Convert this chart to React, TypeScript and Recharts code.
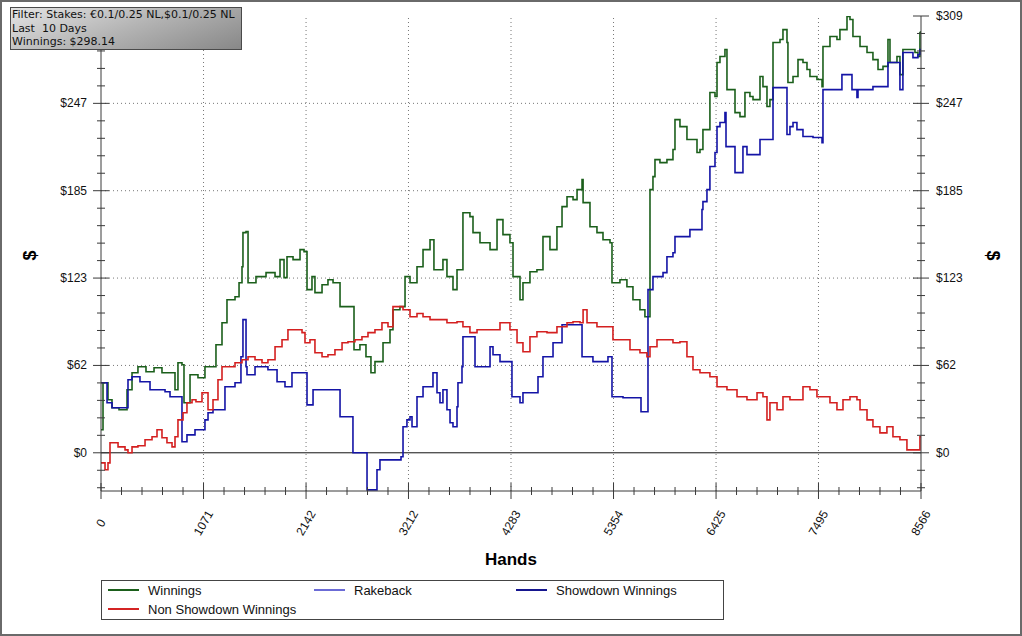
import { LineChart, Line, XAxis, YAxis, ReferenceLine } from "recharts";

// hands, dollars
const winnings: [number, number][] = [
  [0, 16.3], [21, 49.5], [73, 37.5], [115, 31.8], [188, 30.4], [272, 44.6], [324, 56.6], [386, 60.8],
  [470, 57.3], [554, 60.1], [637, 56.6], [773, 44.6], [804, 63.6], [846, 62.2], [867, 35.4], [930, 55.2],
  [1013, 53.0], [1086, 60.8], [1170, 60.8], [1201, 76.4], [1264, 91.9], [1316, 108.2], [1400, 110.3],
  [1442, 120.2], [1473, 131.5], [1483, 155.6], [1515, 156.3], [1536, 120.2], [1619, 124.5], [1724, 127.3],
  [1818, 124.5], [1870, 136.5], [1912, 123.8], [1943, 138.6], [2006, 136.5], [2079, 143.6], [2121, 142.2],
  [2152, 115.3], [2204, 124.5], [2235, 113.2], [2309, 118.8], [2371, 122.3], [2424, 120.2], [2497, 103.3],
  [2632, 103.3], [2643, 72.8], [2705, 76.4], [2768, 67.9], [2820, 56.6], [2862, 64.4], [2946, 77.8],
  [3019, 87.0], [3050, 101.1], [3123, 103.3], [3176, 124.5], [3228, 120.2], [3301, 131.5], [3364, 143.6],
  [3437, 150.6], [3478, 129.4], [3572, 136.5], [3614, 124.5], [3677, 115.3], [3719, 129.4], [3781, 169.7],
  [3854, 166.9], [3886, 155.6], [3959, 148.5], [4064, 143.6], [4137, 164.8], [4199, 154.2], [4272, 148.5],
  [4304, 124.5], [4377, 108.2], [4408, 120.2], [4481, 128.0], [4554, 129.4], [4617, 152.8], [4690, 143.6],
  [4763, 159.8], [4816, 174.0], [4868, 181.0], [4931, 178.9], [4973, 186.0], [5025, 193.1], [5036, 176.8],
  [5108, 159.8], [5181, 155.6], [5244, 150.6], [5317, 148.5], [5338, 120.2], [5421, 122.3], [5494, 117.4],
  [5557, 108.2], [5630, 101.1], [5682, 96.2], [5714, 96.2], [5735, 186.0], [5766, 195.2], [5787, 207.2],
  [5839, 205.1], [5912, 207.2], [5975, 214.3], [5996, 235.5], [6048, 230.5], [6121, 221.4], [6226, 212.2],
  [6257, 214.3], [6288, 228.4], [6361, 254.6], [6414, 251.8], [6435, 275.8], [6466, 280.1], [6518, 285.0],
  [6539, 256.7], [6602, 256.7], [6623, 240.4], [6675, 237.6], [6727, 254.6], [6779, 251.8], [6811, 249.6],
  [6884, 265.9], [6915, 258.8], [6957, 244.7], [6988, 249.6], [7020, 290.0], [7093, 292.1], [7124, 299.1],
  [7166, 290.0], [7176, 261.7], [7229, 265.9], [7281, 277.9], [7333, 275.8], [7375, 270.9], [7406, 265.9],
  [7479, 263.8], [7532, 258.8], [7542, 287.1], [7615, 294.2], [7688, 292.1], [7719, 299.1], [7793, 308.3],
  [7824, 306.2], [7855, 294.2], [7929, 287.1], [8002, 282.9], [8064, 277.9], [8117, 270.9], [8169, 273.1],
  [8221, 292.1], [8242, 275.8], [8315, 280.1], [8346, 267.3], [8377, 285.0], [8451, 285.0], [8503, 282.9],
  [8534, 280.1], [8555, 297.0], [8566, 298.1],
];

const showdown: [number, number][] = [
  [0, 49.5], [52, 49.5], [63, 35.4], [115, 31.8], [282, 51.6], [324, 53.7], [407, 50.2], [512, 44.6],
  [669, 43.1], [721, 39.6], [846, 7.8], [898, 12.7], [982, 16.3], [1086, 23.3], [1118, 28.3], [1170, 30.4],
  [1295, 46.7], [1400, 49.5], [1462, 67.9], [1483, 94.1], [1515, 60.8], [1525, 55.2], [1609, 60.8],
  [1744, 58.7], [1839, 50.2], [1922, 46.7], [1995, 56.6], [2152, 33.9], [2215, 44.6], [2497, 25.5],
  [2632, 0], [2779, -26.2], [2883, -12.0], [2914, -5.0], [3134, -2.8], [3155, 18.4], [3196, 23.3],
  [3228, 25.5], [3249, 18.4], [3301, 39.6], [3364, 46.7], [3468, 56.6], [3510, 42.4], [3541, 35.4],
  [3572, 44.6], [3614, 30.4], [3646, 21.2], [3677, 18.4], [3719, 32.5], [3729, 49.5], [3771, 60.8],
  [3781, 82.0], [3907, 60.8], [4064, 75.0], [4095, 69.3], [4168, 64.4], [4293, 39.6], [4377, 35.4],
  [4408, 42.4], [4565, 53.7], [4617, 67.9], [4722, 77.8], [4816, 90.5], [5025, 67.9], [5139, 64.4],
  [5296, 67.9], [5338, 39.6], [5453, 38.9], [5641, 29.0], [5714, 115.3], [5766, 124.5], [5871, 127.3],
  [5912, 138.6], [5975, 141.4], [5996, 152.8], [6152, 157.7], [6278, 171.9], [6288, 177.5], [6330, 186.0],
  [6361, 202.3], [6414, 212.2], [6435, 230.5], [6466, 233.4], [6518, 240.4], [6529, 216.4], [6623, 198.0],
  [6706, 216.4], [6748, 210.7], [6884, 221.4], [7020, 258.1], [7166, 224.9], [7197, 230.5], [7229, 233.4],
  [7270, 228.4], [7333, 223.5], [7438, 222.8], [7532, 219.2], [7542, 256.7], [7740, 267.3], [7845, 256.7],
  [7897, 251.1], [7908, 256.7], [8064, 258.8], [8221, 275.8], [8346, 256.7], [8377, 282.9], [8482, 279.3],
  [8534, 281.5], [8555, 285.0], [8566, 285.0],
];

const nonShowdown: [number, number][] = [
  [0, -7.1], [42, -12.0], [73, -7.1], [94, 7.1], [178, 4.2], [251, 2.1], [282, 0], [324, 4.2], [386, 5.0],
  [460, 9.2], [533, 11.3], [585, 16.3], [637, 10.6], [689, 7.1], [742, 4.2], [773, 11.3], [804, 23.3],
  [857, 28.3], [898, 35.4], [951, 37.5], [992, 36.1], [1055, 42.4], [1118, 30.4], [1170, 37.5], [1222, 51.6],
  [1264, 60.8], [1337, 60.8], [1400, 63.6], [1473, 65.8], [1536, 67.9], [1609, 65.8], [1682, 63.6],
  [1744, 65.8], [1818, 75.0], [1891, 79.9], [1953, 87.0], [2027, 87.0], [2100, 84.9], [2131, 77.8],
  [2183, 79.9], [2235, 70.7], [2309, 67.9], [2371, 69.3], [2444, 72.8], [2518, 77.8], [2580, 78.5],
  [2653, 79.9], [2726, 82.0], [2789, 84.9], [2862, 87.0], [2935, 91.9], [2998, 89.1], [3050, 103.3],
  [3155, 101.1], [3228, 96.2], [3301, 98.4], [3364, 96.2], [3437, 94.1], [3510, 94.1], [3614, 91.9],
  [3719, 92.6], [3781, 89.1], [3854, 84.9], [3928, 87.0], [4064, 87.0], [4168, 91.9], [4272, 87.0],
  [4346, 77.8], [4408, 71.4], [4481, 82.0], [4554, 85.6], [4659, 84.9], [4763, 89.1], [4868, 91.9],
  [4931, 92.6], [5004, 91.9], [5036, 101.1], [5077, 91.9], [5181, 89.1], [5286, 89.1], [5348, 79.9],
  [5453, 79.9], [5526, 72.8], [5630, 70.7], [5703, 67.9], [5735, 75.0], [5808, 79.9], [5871, 79.9],
  [5975, 77.8], [6048, 78.5], [6121, 67.9], [6184, 58.7], [6257, 56.6], [6361, 53.7], [6435, 46.7],
  [6539, 44.6], [6644, 39.6], [6748, 37.5], [6853, 42.4], [6915, 39.6], [6957, 23.3], [6988, 35.4],
  [7062, 30.4], [7124, 39.6], [7197, 37.5], [7270, 37.5], [7333, 46.7], [7406, 44.6], [7479, 39.6],
  [7542, 39.6], [7615, 35.4], [7688, 30.4], [7751, 37.5], [7824, 39.6], [7897, 37.5], [7929, 30.4],
  [8002, 23.3], [8064, 18.4], [8137, 14.1], [8210, 18.4], [8273, 11.3], [8346, 9.2], [8419, 2.1],
  [8482, 2.1], [8534, 2.1], [8555, 11.3], [8566, 11.3],
];

const xMajorTicks = [0, 1071, 2142, 3212, 4283, 5354, 6425, 7495, 8566];
const yMajorTicks = [0, 61.74, 123.48, 185.22, 246.96, 308.7];
const yMinorBelowZero = [-12.35, -24.7];
const yDomain: [number, number] = [-27, 308.7];

const filterLines = [
  "Filter: Stakes: €0.1/0.25 NL,$0.1/0.25 NL",
  "Last  10 Days",
  "Winnings: $298.14",
];

const legendItems = [
  { name: "Winnings", color: "#1b5f1b", left: 6, top: 9 },
  { name: "Rakeback", color: "#6b6bd6", left: 212, top: 9 },
  { name: "Showdown Winnings", color: "#16168f", left: 414, top: 9 },
  { name: "Non Showdown Winnings", color: "#d42424", left: 6, top: 28 },
];

// 4 minor marks between each pair of majors
function withMinor(majors: number[]) {
  const out: number[] = [];
  for (let i = 0; i < majors.length - 1; i++) {
    for (let k = 0; k < 5; k++) out.push(majors[i] + ((majors[i + 1] - majors[i]) * k) / 5);
  }
  out.push(majors[majors.length - 1]);
  return out;
}

const xTicks = withMinor(xMajorTicks);
const yTicks = [...yMinorBelowZero.slice().reverse(), ...withMinor(yMajorTicks)];

const isMajor = (v: number, majors: number[]) => majors.some((m) => Math.abs(m - v) < 0.01);
const rows = (pts: [number, number][]) => pts.map(([h, v]) => ({ h, v }));

const AXIS = "#3a3a3a";
const TICK_FONT = "'Liberation Sans', Arial, sans-serif";
const yTop = yMajorTicks[yMajorTicks.length - 1];

function BottomTick(props: any) {
  const { x, y, payload } = props;
  const major = isMajor(payload.value, xMajorTicks);
  const h = major ? 8 : 4;
  const ty = y + 32;
  return (
    <g>
      <line x1={x} x2={x} y1={y - h} y2={y + h} stroke={AXIS} />
      {major && (
        <text
          x={x}
          y={ty}
          transform={`rotate(-60 ${x} ${ty})`}
          textAnchor="middle"
          dominantBaseline="central"
          fontSize={12}
          fontFamily={TICK_FONT}
          fill="#111"
        >
          {Math.round(payload.value)}
        </text>
      )}
    </g>
  );
}

function TopTick(props: any) {
  const { x, y } = props;
  return <line x1={x} x2={x} y1={y} y2={y + 5} stroke={AXIS} />;
}

function SideTick(props: any) {
  const { x, y, payload, side } = props;
  const major = isMajor(payload.value, yMajorTicks);
  const h = major ? 8 : 4;
  const label = "$" + Math.round(payload.value);
  // the filter box sits over the left top label
  const hidden = side === "left" && Math.abs(payload.value - yTop) < 0.01;
  return (
    <g>
      <line x1={x - h} x2={x + h} y1={y} y2={y} stroke={AXIS} />
      {major && !hidden && (
        <text
          x={side === "left" ? x - 14 : x + 15}
          y={y}
          textAnchor={side === "left" ? "end" : "start"}
          dominantBaseline="central"
          fontSize={12}
          fontFamily={TICK_FONT}
          fill="#111"
        >
          {label}
        </text>
      )}
    </g>
  );
}

export default function App() {
  return (
    <div
      style={{
        position: "fixed",
        left: 0,
        top: 0,
        width: 1022,
        height: 636,
        background: "#fff",
        fontFamily: TICK_FONT,
        overflow: "hidden",
      }}
    >
      <LineChart width={1022} height={636} margin={{ top: 16, right: 0, bottom: 0, left: 0 }}>
        <XAxis
          xAxisId="x"
          dataKey="h"
          type="number"
          domain={[0, 8566]}
          ticks={xTicks}
          interval={0}
          tickSize={0}
          tickMargin={0}
          tick={(p: any) => <BottomTick {...p} />}
          axisLine={{ stroke: AXIS }}
          height={145}
          allowDataOverflow
        />
        <XAxis
          xAxisId="top"
          orientation="top"
          type="number"
          domain={[0, 8566]}
          ticks={xTicks}
          interval={0}
          tickSize={0}
          tickMargin={0}
          tick={(p: any) => <TopTick {...p} />}
          axisLine={{ stroke: AXIS }}
          height={0}
        />
        <YAxis
          yAxisId="left"
          type="number"
          domain={yDomain}
          ticks={yTicks}
          interval={0}
          tickSize={0}
          tickMargin={0}
          tick={(p: any) => <SideTick {...p} side="left" />}
          axisLine={{ stroke: AXIS }}
          width={101}
          allowDataOverflow
        />
        <YAxis
          yAxisId="right"
          orientation="right"
          type="number"
          domain={yDomain}
          ticks={yTicks}
          interval={0}
          tickSize={0}
          tickMargin={0}
          tick={(p: any) => <SideTick {...p} side="right" />}
          axisLine={{ stroke: AXIS }}
          width={101}
          allowDataOverflow
        />

        {xMajorTicks.slice(1, -1).map((v) => (
          <ReferenceLine key={"gx" + v} xAxisId="x" yAxisId="left" x={v} stroke="#777" strokeDasharray="1 3" />
        ))}
        {yMajorTicks.slice(1, -1).map((v) => (
          <ReferenceLine key={"gy" + v} xAxisId="x" yAxisId="left" y={v} stroke="#777" strokeDasharray="1 3" />
        ))}
        <ReferenceLine xAxisId="x" yAxisId="left" y={0} stroke="#111" />

        <Line
          xAxisId="x"
          yAxisId="left"
          data={rows(winnings)}
          dataKey="v"
          type="stepAfter"
          stroke="#1b5f1b"
          strokeWidth={1.6}
          dot={false}
          isAnimationActive={false}
        />
        <Line
          xAxisId="x"
          yAxisId="left"
          data={rows(showdown)}
          dataKey="v"
          type="stepAfter"
          stroke="#1414a6"
          strokeWidth={1.6}
          dot={false}
          isAnimationActive={false}
        />
        <Line
          xAxisId="x"
          yAxisId="left"
          data={rows(nonShowdown)}
          dataKey="v"
          type="stepAfter"
          stroke="#d42020"
          strokeWidth={1.6}
          dot={false}
          isAnimationActive={false}
        />
      </LineChart>

      {/* side titles */}
      <div
        style={{
          position: "absolute",
          left: 22,
          top: 245,
          width: 16,
          textAlign: "center",
          fontWeight: "bold",
          fontSize: 18,
          transform: "rotate(-90deg)",
        }}
      >
        $
      </div>
      <div
        style={{
          position: "absolute",
          left: 984,
          top: 245,
          width: 16,
          textAlign: "center",
          fontWeight: "bold",
          fontSize: 18,
          transform: "rotate(90deg)",
        }}
      >
        $
      </div>
      <div style={{ position: "absolute", left: 485, top: 550, fontWeight: "bold", fontSize: 17 }}>Hands</div>

      {/* filter box */}
      <div
        style={{
          position: "absolute",
          left: 10,
          top: 7,
          width: 232,
          height: 43,
          boxSizing: "border-box",
          border: "1px solid #4a4a4a",
          background: "linear-gradient(160deg, #e4e4e4 0%, #b4b4b4 50%, #888 100%)",
          fontFamily: "'DejaVu Sans', Verdana, sans-serif",
          fontSize: 11,
          lineHeight: "13.7px",
          padding: "0 1px",
          color: "#111",
          whiteSpace: "nowrap",
          overflow: "hidden",
        }}
      >
        {filterLines.map((t) => (
          <div key={t} style={{ whiteSpace: "pre", height: 13.7 }}>
            {t}
          </div>
        ))}
      </div>

      {/* legend */}
      <div
        style={{
          position: "absolute",
          left: 101,
          top: 580,
          width: 623,
          height: 40,
          boxSizing: "border-box",
          border: "1px solid #444",
          fontSize: 13,
        }}
      >
        {legendItems.map((it) => (
          <div
            key={it.name}
            style={{ position: "absolute", left: it.left, top: it.top - 8, height: 16, display: "flex", alignItems: "center" }}
          >
            <div style={{ width: 31, height: 0, borderTop: `2px solid ${it.color}`, marginRight: 9 }} />
            <span style={{ color: "#111" }}>{it.name}</span>
          </div>
        ))}
      </div>

      {/* outer frame */}
      <div
        style={{
          position: "absolute",
          inset: 0,
          boxSizing: "border-box",
          border: "2px solid #6a6a6a",
          pointerEvents: "none",
        }}
      />
    </div>
  );
}
